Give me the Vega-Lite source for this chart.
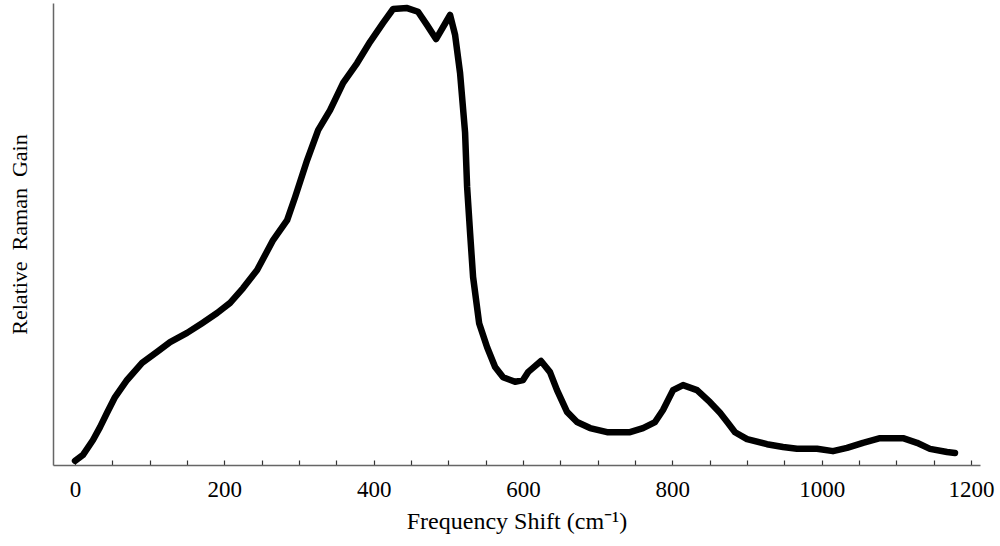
{
  "$schema": "https://vega.github.io/schema/vega-lite/v6.json",
  "width": 927,
  "height": 462,
  "autosize": {"type": "none"},
  "padding": {"left": 53, "top": 3, "right": 20, "bottom": 81},
  "background": "white",
  "config": {"view": {"stroke": null}, "font": "Liberation Serif"},
  "data": {"values": [
    {"shift": 0, "gain": 0.009},
    {"shift": 10.7, "gain": 0.022},
    {"shift": 24.1, "gain": 0.054},
    {"shift": 33.5, "gain": 0.082},
    {"shift": 42.9, "gain": 0.113},
    {"shift": 53.6, "gain": 0.147},
    {"shift": 69.7, "gain": 0.184},
    {"shift": 89.8, "gain": 0.221},
    {"shift": 109.9, "gain": 0.245},
    {"shift": 127.3, "gain": 0.266},
    {"shift": 150.1, "gain": 0.286},
    {"shift": 170.2, "gain": 0.307},
    {"shift": 190.3, "gain": 0.329},
    {"shift": 207.7, "gain": 0.351},
    {"shift": 225.1, "gain": 0.383},
    {"shift": 243.9, "gain": 0.422},
    {"shift": 265.3, "gain": 0.487},
    {"shift": 284.1, "gain": 0.530},
    {"shift": 294.8, "gain": 0.580},
    {"shift": 310.9, "gain": 0.660},
    {"shift": 325.6, "gain": 0.725},
    {"shift": 341.6, "gain": 0.768},
    {"shift": 359.1, "gain": 0.827},
    {"shift": 377.8, "gain": 0.870},
    {"shift": 395.2, "gain": 0.916},
    {"shift": 412.6, "gain": 0.957},
    {"shift": 426.0, "gain": 0.987},
    {"shift": 444.8, "gain": 0.989},
    {"shift": 459.4, "gain": 0.981},
    {"shift": 471.5, "gain": 0.952},
    {"shift": 483.5, "gain": 0.922},
    {"shift": 502.3, "gain": 0.974},
    {"shift": 509.0, "gain": 0.931},
    {"shift": 515.7, "gain": 0.848},
    {"shift": 522.4, "gain": 0.719},
    {"shift": 525.1, "gain": 0.602},
    {"shift": 529.1, "gain": 0.502},
    {"shift": 533.1, "gain": 0.407},
    {"shift": 541.2, "gain": 0.307},
    {"shift": 551.9, "gain": 0.255},
    {"shift": 562.6, "gain": 0.212},
    {"shift": 573.3, "gain": 0.190},
    {"shift": 589.3, "gain": 0.180},
    {"shift": 600.0, "gain": 0.184},
    {"shift": 606.7, "gain": 0.201},
    {"shift": 624.1, "gain": 0.225},
    {"shift": 636.1, "gain": 0.201},
    {"shift": 645.5, "gain": 0.162},
    {"shift": 658.9, "gain": 0.115},
    {"shift": 672.3, "gain": 0.093},
    {"shift": 689.7, "gain": 0.080},
    {"shift": 712.5, "gain": 0.071},
    {"shift": 743.3, "gain": 0.071},
    {"shift": 760.7, "gain": 0.080},
    {"shift": 776.8, "gain": 0.093},
    {"shift": 787.5, "gain": 0.119},
    {"shift": 800.9, "gain": 0.162},
    {"shift": 814.3, "gain": 0.173},
    {"shift": 833.0, "gain": 0.162},
    {"shift": 850.4, "gain": 0.136},
    {"shift": 863.8, "gain": 0.113},
    {"shift": 874.5, "gain": 0.091},
    {"shift": 883.9, "gain": 0.071},
    {"shift": 900.0, "gain": 0.056},
    {"shift": 926.7, "gain": 0.045},
    {"shift": 948.2, "gain": 0.039},
    {"shift": 966.9, "gain": 0.035},
    {"shift": 993.7, "gain": 0.035},
    {"shift": 1015.1, "gain": 0.030},
    {"shift": 1033.9, "gain": 0.037},
    {"shift": 1055.3, "gain": 0.048},
    {"shift": 1078.1, "gain": 0.058},
    {"shift": 1108.9, "gain": 0.058},
    {"shift": 1127.6, "gain": 0.048},
    {"shift": 1145.0, "gain": 0.035},
    {"shift": 1167.8, "gain": 0.028},
    {"shift": 1178.5, "gain": 0.026}
  ]},
  "mark": {"type": "line", "color": "black", "strokeWidth": 6.5, "strokeCap": "round", "strokeJoin": "round", "interpolate": "linear"},
  "encoding": {
    "x": {
      "field": "shift", "type": "quantitative",
      "scale": {"domain": [-29.5, 1212], "nice": false, "zero": false},
      "axis": {
        "title": "Frequency Shift (cm⁻¹)",
        "titleFont": "Liberation Serif", "titleFontSize": 24, "titleFontWeight": "normal", "titleColor": "black",
        "titlePadding": 8,
        "values": [0, 50, 100, 150, 200, 250, 300, 350, 400, 450, 500, 550, 600, 650, 700, 750, 800, 850, 900, 950, 1000, 1050, 1100, 1150, 1200],
        "labelExpr": "datum.value % 200 === 0 ? datum.label : ''",
        "format": "d",
        "labelFont": "Liberation Serif", "labelFontSize": 23, "labelColor": "black",
        "labelPadding": 18,
        "labelFlush": false, "labelOverlap": false,
        "ticks": true,
        "tickSize": -5,
        "tickColor": "#333", "tickWidth": 1.2,
        "domainColor": "#666", "domainWidth": 1.5,
        "grid": false,
        "encode": {"ticks": {"update": {"y2": {"signal": "datum.value % 200 === 0 ? -5 : -3"}}}}
      }
    },
    "y": {
      "field": "gain", "type": "quantitative",
      "scale": {"domain": [0, 1], "nice": false},
      "axis": {
        "title": "Relative \u00a0Raman \u00a0Gain",
        "titleFont": "Liberation Serif", "titleFontSize": 22, "titleFontWeight": "normal", "titleColor": "black",
        "titlePadding": 22,
        "labels": false, "ticks": false, "grid": false,
        "domainColor": "#666", "domainWidth": 1.5
      }
    }
  }
}
